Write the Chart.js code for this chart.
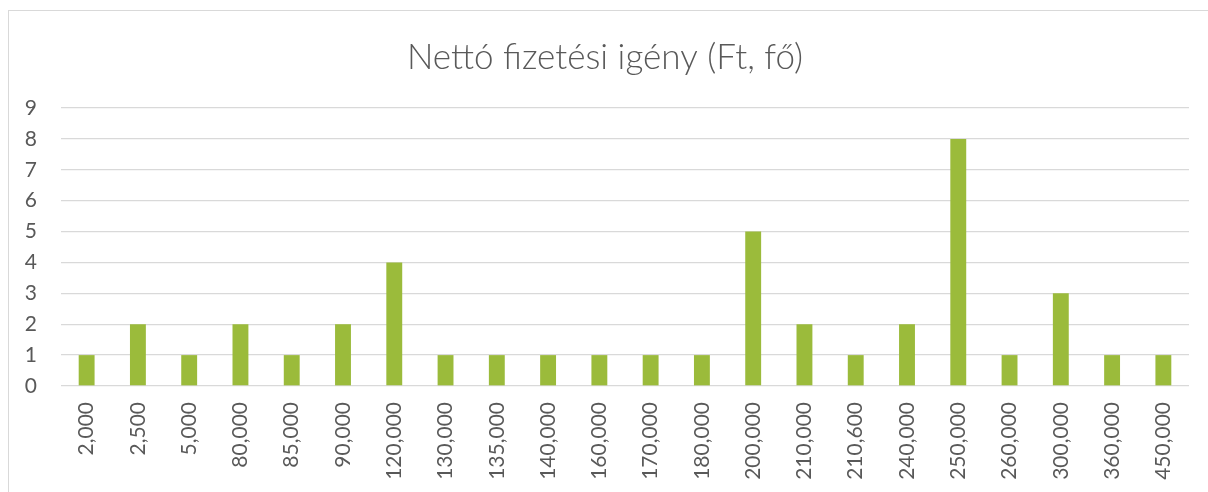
<!DOCTYPE html>
<html lang="hu">
  <head>
    <meta charset="UTF-8" />
    <title>Nettó fizetési igény</title>
    <script src="https://cdn.jsdelivr.net/npm/chart.js@4.4.1/dist/chart.umd.min.js"></script>
    <style>
      body { margin: 0; background: #fff; }
      #frame { position: absolute; left: 8px; top: 10px; width: 1220px; height: 500px; border: 1px solid #d9d9d9; }
      #wrap { position: absolute; left: 0; top: 0; width: 1208px; height: 492px; }
    </style>
  </head>
  <body>
    <div id="frame"></div>
    <div id="wrap"><canvas id="chart"></canvas></div>
    <script>
      const categories = ["2,000", "2,500", "5,000", "80,000", "85,000", "90,000", "120,000", "130,000", "135,000", "140,000", "160,000", "170,000", "180,000", "200,000", "210,000", "210,600", "240,000", "250,000", "260,000", "300,000", "360,000", "450,000"];
      const counts = [1, 2, 1, 2, 1, 2, 4, 1, 1, 1, 1, 1, 1, 5, 2, 1, 2, 8, 1, 3, 1, 1];
      const yTicks = [0, 1, 2, 3, 4, 5, 6, 7, 8, 9];

      const textColor = "#595959";
      const gridColor = "#d9d9d9";

      new Chart(document.getElementById("chart"), {
        type: "bar",
        data: {
          labels: categories,
          datasets: [{ data: counts, backgroundColor: "#9bbb3b", barPercentage: 0.31, categoryPercentage: 1 }],
        },
        options: {
          responsive: true,
          maintainAspectRatio: false,
          animation: false,
          layout: { padding: { left: 21, right: 19, top: 0, bottom: 0 } },
          plugins: {
            legend: { display: false },
            tooltip: { enabled: false },
            title: {
              display: true,
              text: "Nettó fizetési igény (Ft, fő)",
              color: textColor,
              font: { family: "Lato", size: 35, weight: "300" },
              padding: { top: 37, bottom: 29 },
            },
          },
          scales: {
            x: {
              grid: { display: false },
              border: { display: false },
              ticks: {
                color: textColor,
                font: { family: "Lato", size: 21 },
                minRotation: 90,
                maxRotation: 90,
                autoSkip: false,
                padding: 8,
              },
              afterFit: (s) => { s.height = 106; },
            },
            y: {
              min: 0,
              max: 9,
              afterBuildTicks: (s) => { s.ticks = yTicks.map((v) => ({ value: v })); },
              grid: { color: gridColor, lineWidth: 1.3, drawTicks: false },
              border: { display: false },
              ticks: { color: textColor, font: { family: "Lato", size: 21 }, padding: 24 },
              afterFit: (s) => { s.width = 40; },
            },
          },
        },
      });
    </script>
  </body>
</html>
